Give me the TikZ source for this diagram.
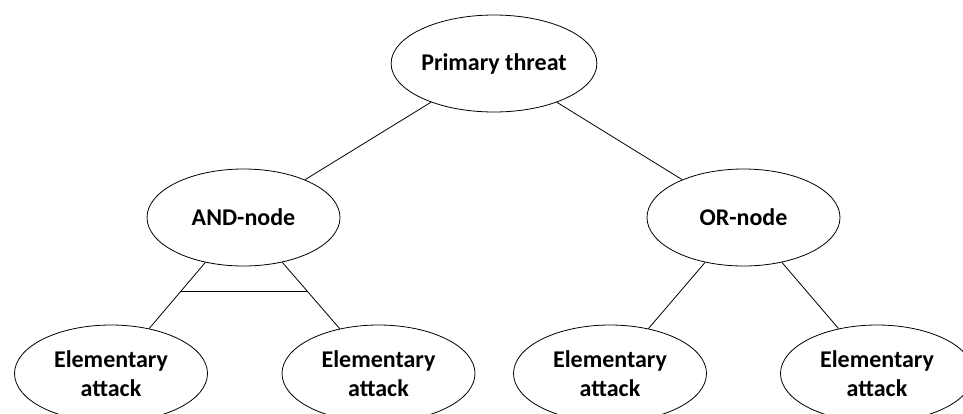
\documentclass[tikz,border=0pt]{standalone}
\usepackage{fontspec}
\setmainfont{Carlito}
\usetikzlibrary{shapes.geometric,calc}

\tikzset{
  goal/.style={draw=black, line width=0.8pt, ellipse, inner sep=0pt,
    minimum width=193pt, minimum height=97pt, align=center,
    font=\fontsize{24}{29}\selectfont\bfseries},
  link/.style={draw=black, line width=0.8pt}
}

\begin{document}
\begin{tikzpicture}[x=1pt, y=-1pt]
  \useasboundingbox (0,0) rectangle (963,413);
  \clip (0,0) rectangle (963,413);
  \fill[white] (0,0) rectangle (963,413);

  % tree nodes
  \node[goal] (top) at (494,63.5) {Primary threat};
  \node[goal] (and) at (243.5,217.5) {AND-node};
  \node[goal] (or)  at (743.5,217.5) {OR-node};
  \node[goal] (e1) at (111,373.5) {Elementary\\attack};
  \node[goal] (e2) at (378.5,373.5) {Elementary\\attack};
  \node[goal] (e3) at (610,373.5) {Elementary\\attack};
  \node[goal] (e4) at (877,373.5) {Elementary\\attack};

  % edges
  \draw[link] (top) -- (and);
  \draw[link] (top) -- (or);
  \draw[link] (and) -- (e1);
  \draw[link] (and) -- (e2);
  \draw[link] (or) -- (e3);
  \draw[link] (or) -- (e4);

  % AND bar across the two branches
  \coordinate (barL) at ($(and)!0.471!(e1)$);
  \coordinate (barR) at ($(and)!0.471!(e2)$);
  \draw[link] (barL) -- (barR);
\end{tikzpicture}
\end{document}
